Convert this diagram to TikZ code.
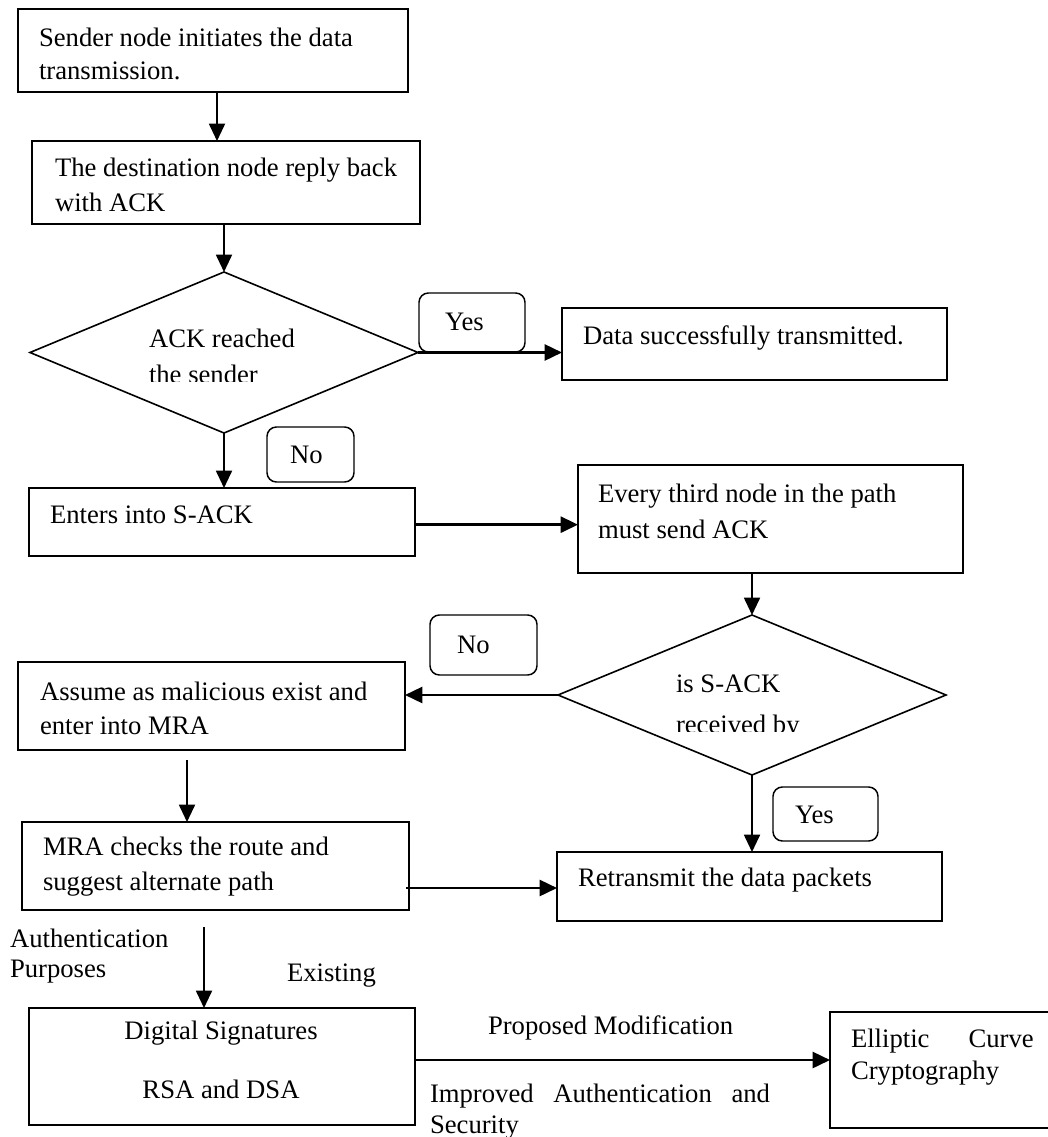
\documentclass[tikz,border=0pt]{standalone}
\usepackage{fontspec}
\setmainfont{Liberation Serif}
\usetikzlibrary{arrows.meta,shapes.geometric}
\begin{document}
\begin{tikzpicture}[x=0.75pt,y=-0.75pt,
  box/.style={draw,line width=1.4pt,rectangle,inner sep=0pt,outer sep=0pt},
  lab/.style={draw,line width=1.1pt,rounded corners=7pt,rectangle,inner sep=0pt,outer sep=0pt},
  dec/.style={draw,line width=1.2pt,diamond,inner sep=0pt,outer sep=0pt},
  txt/.style={anchor=base west,inner sep=0pt,outer sep=0pt,font=\fontsize{20}{25.5}\selectfont},
  ctxt/.style={anchor=base,inner sep=0pt,outer sep=0pt,font=\fontsize{20}{25.5}\selectfont},
  harr/.style={line width=1.9pt,-{Triangle[length=13pt,width=12pt]}},
  varr/.style={line width=1.4pt,-{Triangle[length=13pt,width=12pt]}},
]
\useasboundingbox (0,0) rectangle (1047,1137);

% boxes
\node[box,minimum width=(408-18)*0.75pt,minimum height=(92-9)*0.75pt] (b1) at (213,50.5) {};
\node[box,minimum width=(420-32)*0.75pt,minimum height=(224-141)*0.75pt] (b2) at (226,182.5) {};
\node[dec,minimum width=(418-30)*0.75pt,minimum height=(433-272)*0.75pt] (d1) at (224,352.5) {};
\node[lab,minimum width=(525-419)*0.75pt,minimum height=(352-293)*0.75pt] (y1) at (472,322.5) {};
\node[box,minimum width=(947-562)*0.75pt,minimum height=(380-308)*0.75pt] (b3) at (754.5,344) {};
\node[lab,minimum width=(354-267)*0.75pt,minimum height=(482-427)*0.75pt] (n1) at (310.5,454.5) {};
\node[box,minimum width=(415-29)*0.75pt,minimum height=(556-488)*0.75pt] (b4) at (222,522) {};
\node[box,minimum width=(963-578)*0.75pt,minimum height=(573-465)*0.75pt] (b5) at (770.5,519) {};
\node[dec,minimum width=(946-558)*0.75pt,minimum height=(775-615)*0.75pt] (d2) at (752,695) {};
\node[lab,minimum width=(537-430)*0.75pt,minimum height=(675-615)*0.75pt] (n2) at (483.5,645) {};
\node[box,minimum width=(405-18)*0.75pt,minimum height=(750-662)*0.75pt] (b6) at (211.5,706) {};
\node[box,minimum width=(409-22)*0.75pt,minimum height=(910-822)*0.75pt] (b7) at (215.5,866) {};
\node[box,minimum width=(942-557)*0.75pt,minimum height=(921-852)*0.75pt] (b8) at (749.5,886.5) {};
\node[lab,minimum width=(878-773)*0.75pt,minimum height=(841-787)*0.75pt] (y2) at (825.5,814) {};
\node[box,minimum width=(415-29)*0.75pt,minimum height=(1125-1008)*0.75pt] (b9) at (222,1066.5) {};
\node[box,minimum width=(1060-830)*0.75pt,minimum height=(1128-1012)*0.75pt] (b10) at (945,1070) {};

% texts
\node[txt] (t1a) at (39,47) {Sender node initiates the data};
\node[txt] (t1b) at (39,80) {transmission.};
\node[txt] (t2a) at (55,177) {The destination node reply back};
\node[txt] (t2b) at (55,212) {with ACK};
\node[txt] (td1a) at (149,347) {ACK reached};
\begin{scope}
  \clip (100,355) rectangle (350,381);
  \node[txt] (td1b) at (149,383) {the sender};
\end{scope}
\node[txt] (ty1) at (445,330) {Yes};
\node[txt] (t3) at (583,344) {Data successfully transmitted.};
\node[txt] (tn1) at (290,463) {No};
\node[txt] (t4) at (50,523) {Enters into S-ACK};
\node[txt] (t5a) at (598,502) {Every third node in the path};
\node[txt] (t5b) at (598,538) {must send ACK};
\node[txt] (td2a) at (676,692) {is S-ACK};
\begin{scope}
  \clip (600,705) rectangle (900,731);
  \node[txt] (td2b) at (676,733) {received by};
\end{scope}
\node[txt] (tn2) at (457,653) {No};
\node[txt] (t6a) at (40,700) {Assume as malicious exist and};
\node[txt] (t6b) at (40,734) {enter into MRA};
\node[txt] (t7a) at (43,855) {MRA checks the route and};
\node[txt] (t7b) at (43,890) {suggest alternate path};
\node[txt] (t8) at (578,886) {Retransmit the data packets};
\node[txt] (ty2) at (795,823) {Yes};
\node[txt] (ta1) at (10,947) {Authentication};
\node[txt] (ta2) at (10,977) {Purposes};
\node[txt] (tex) at (287,981) {Existing};
\node[ctxt] (t9a) at (221,1039) {Digital Signatures};
\node[ctxt] (t9b) at (221,1098) {RSA and DSA};
\node[txt] (tpm) at (488,1034) {Proposed Modification};
\node[txt] (tia) at (430,1102) {\makebox[255pt][l]{Improved\hfill Authentication\hfill and}};
\node[txt] (tib) at (430,1133) {Security};
\node[txt] (t10a) at (851,1047) {\makebox[137pt][l]{Elliptic\hfill Curve}};
\node[txt] (t10b) at (851,1079) {Cryptography};

% connectors
\coordinate (s8) at (187,760);
\coordinate (s9) at (406,888);
\coordinate (s11) at (204,927);
\coordinate (s12) at (415,1060);
\draw[varr] ([xshift=3pt]b1.south) -- ([xshift=3pt]b1.south |- b2.north);
\draw[varr] (d1.north |- b2.south) -- (d1.north);
\draw[harr] (d1.east) -- (d1.east -| b3.west);
\draw[varr] (d1.south) -- (d1.south |- b4.north);
\draw[harr] ([yshift=-2pt]b4.east) -- ([yshift=-2pt]b4.east -| b5.west);
\draw[varr] (d2.north |- b5.south) -- (d2.north);
\draw[harr] (d2.west) -- (d2.west -| b6.east);
\draw[varr] (s8) -- (s8 |- b7.north);
\draw[harr] (s9) -- (s9 -| b8.west);
\draw[varr] (d2.south) -- (d2.south |- b8.north);
\draw[varr] (s11) -- (s11 |- b9.north);
\draw[harr] (s12) -- (s12 -| b10.west);
\end{tikzpicture}
\end{document}
